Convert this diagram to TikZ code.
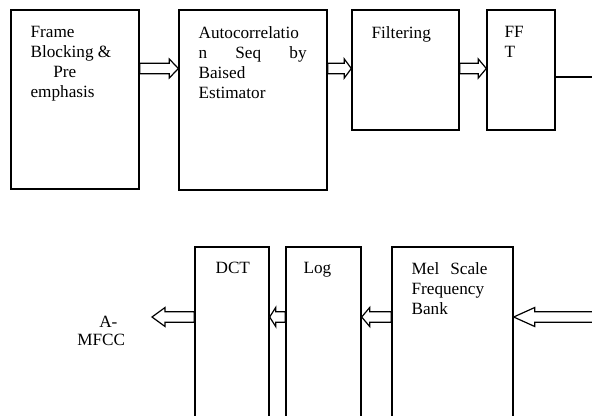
\documentclass[tikz,border=0pt]{standalone}
\usepackage{fontspec}
\setmainfont{Liberation Serif}
\usepackage{tikz}
\usetikzlibrary{calc}

\begin{document}
\begin{tikzpicture}[
    x=0.75pt, y=-0.75pt,
    box/.style={rectangle, draw=black, line width=1pt, inner sep=0pt},
    lbl/.style={anchor=north west, inner sep=0pt, align=left, font=\fontsize{12.9}{15}\selectfont},
    harrow/.style={line width=0.9pt, draw=black, fill=white,
        to path={let \p1=(\tikztostart), \p2=(\tikztotarget), \n1={sign(\x2-\x1)} in
            (\x1,\y1+3.9pt) -- ({\x2-\n1*#1},\y1+3.9pt) -- ({\x2-\n1*#1},\y1+7.1pt) -- (\x2,\y1)
            -- ({\x2-\n1*#1},\y1-7.1pt) -- ({\x2-\n1*#1},\y1-3.9pt) -- (\x1,\y1-3.9pt) -- cycle}},
    harrow/.default=6.75pt
]
\useasboundingbox (0,0) rectangle (592,415);

% top row
\node[box, minimum width=96pt, minimum height=134.25pt] (frame) at (75,99.5) {};
\node[box, minimum width=111pt, minimum height=135pt] (autocorr) at (253,100) {};
\node[box, minimum width=80.25pt, minimum height=90pt] (filter) at (405.5,70) {};
\node[box, minimum width=51pt, minimum height=90pt] (fft) at (521,70) {};

\node[lbl] (frame-t) at ([shift={(20,17)}]frame.north west) {Frame\\Blocking \&\\\hspace{17pt}Pre\\emphasis};
\node[lbl] (autocorr-t) at ([shift={(20,17)}]autocorr.north west) {Autocorrelatio\\\makebox[81pt][s]{n\hfill Seq\hfill by}\\Baised\\Estimator};
\node[lbl] (filter-t) at ([shift={(20,17)}]filter.north west) {Filtering};
\node[lbl] (fft-t) at ([shift={(18,17)}]fft.north west) {FF\\T};

\coordinate (toprow) at (0,68.5);
\coordinate (fftout) at (594,77);

\draw[harrow] (frame.east |- toprow) to (autocorr.west |- toprow);
\draw[harrow=5.25pt] (autocorr.east |- toprow) to (filter.west |- toprow);
\draw[harrow=6pt] (filter.east |- toprow) to (fft.west |- toprow);
\draw[line width=1pt] (fft.east |- fftout) -- (fftout);

% bottom row
\node[box, minimum width=55.5pt, minimum height=144.75pt] (dct) at (232,343.5) {};
\node[box, minimum width=56.25pt, minimum height=144.75pt] (log) at (323.5,343.5) {};
\node[box, minimum width=90.75pt, minimum height=144.75pt] (mel) at (452.5,343.5) {};

\node[lbl] (dct-t) at ([shift={(21,16)}]dct.north west) {DCT};
\node[lbl] (log-t) at ([shift={(18,16)}]log.north west) {Log};
\node[lbl] (mel-t) at ([shift={(20,16)}]mel.north west) {\makebox[57pt][s]{Mel\hfill Scale}\\Frequency\\Bank};
\node[lbl, font=\fontsize{12.9}{13.5}\selectfont] (mfcc) at (77,316) {\hspace{16.5pt}A-\\MFCC};

\coordinate (botrow) at (0,317);
\coordinate (melin) at (595,317);
\coordinate (mfccout) at (152,317);

\draw[harrow=15.75pt] (melin) to (mel.east |- botrow);
\draw[harrow=6pt] (mel.west |- botrow) to (log.east |- botrow);
\draw[harrow=4.5pt] (log.west |- botrow) to (dct.east |- botrow);
\draw[harrow=9.75pt] (dct.west |- botrow) to (mfccout);
\end{tikzpicture}
\end{document}
